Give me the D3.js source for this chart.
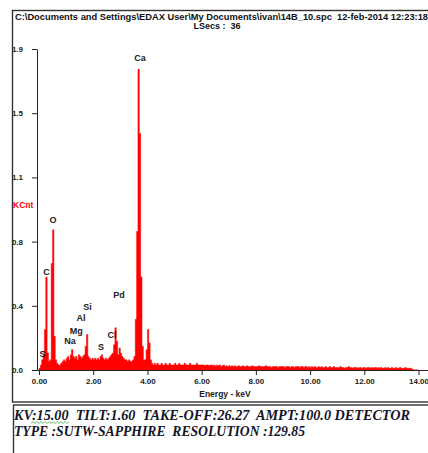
<!DOCTYPE html>
<html>
<head>
<meta charset="utf-8">
<script src="https://cdn.jsdelivr.net/npm/d3@7"></script>
<style>
body { margin: 0; background: #fff; }
svg { display: block; }
svg text { white-space: pre; }
.sans { font-family: "Liberation Sans Narrow", "Arial Narrow", "Liberation Sans", Arial, sans-serif; font-weight: bold; }
.serif { font-family: "Liberation Serif", "DejaVu Serif", serif; font-weight: bold; font-style: italic; }
</style>
</head>
<body>
<div id="chart"></div>
<script>
// EDS spectrum - 14B_10.spc

// Spectrum, kCnt per 0.05 keV channel (rows of 1 keV)
const channelWidth = 0.05;
const counts = [
  0.01,0.03,0.06,0.09,0.24,0.55,0.10,0.05,0.06,0.63,0.83,0.20,0.06,0.04,0.03,0.03,0.04,0.05,0.06,0.05,
  0.07,0.08,0.06,0.09,0.12,0.08,0.07,0.08,0.06,0.09,0.08,0.07,0.08,0.09,0.14,0.21,0.08,0.07,0.06,0.07,
  0.06,0.07,0.06,0.07,0.06,0.08,0.09,0.07,0.06,0.07,0.06,0.07,0.08,0.09,0.10,0.15,0.25,0.17,0.09,0.13,
  0.10,0.08,0.07,0.06,0.06,0.05,0.06,0.05,0.05,0.06,0.08,0.30,0.82,1.78,1.40,0.55,0.14,0.06,0.06,0.12,
  0.24,0.16,0.06,0.04,0.03,0.04,0.03,0.04,0.03,0.03,0.04,0.03,0.03,0.04,0.03,0.03,0.04,0.03,0.03,0.03,
  0.04,0.03,0.03,0.04,0.03,0.03,0.03,0.04,0.03,0.03,0.03,0.04,0.03,0.03,0.03,0.03,0.04,0.03,0.03,0.03,
  0.03,0.03,0.025,0.03,0.03,0.025,0.03,0.03,0.025,0.03,0.02,0.03,0.025,0.03,0.02,0.025,0.03,0.02,0.025,0.02,
  0.025,0.02,0.025,0.02,0.025,0.02,0.02,0.025,0.02,0.02,0.025,0.02,0.02,0.025,0.02,0.02,0.02,0.025,0.02,0.02,
  0.02,0.02,0.025,0.02,0.02,0.02,0.02,0.025,0.02,0.02,0.02,0.015,0.02,0.02,0.02,0.02,0.015,0.02,0.02,0.02,
  0.02,0.015,0.02,0.02,0.02,0.015,0.02,0.02,0.015,0.02,0.02,0.02,0.015,0.02,0.02,0.015,0.02,0.02,0.015,0.02,
  0.015,0.02,0.015,0.02,0.015,0.015,0.02,0.015,0.02,0.015,0.015,0.02,0.015,0.015,0.02,0.015,0.015,0.02,0.015,0.015,
  0.015,0.015,0.02,0.015,0.015,0.01,0.015,0.015,0.02,0.015,0.015,0.01,0.015,0.015,0.015,0.01,0.015,0.015,0.01,0.015,
  0.015,0.01,0.015,0.015,0.01,0.015,0.01,0.015,0.015,0.01,0.015,0.01,0.015,0.01,0.01,0.015,0.01,0.015,0.01,0.01,
  0.015,0.01,0.01,0.015,0.01,0.01,0.015,0.01,0.01,0.01,0.015,0.01,0.01,0.01,0.01,0.005,0,0,0,0
];

// Axis ticks (EDAX splits the y range in five and rounds the labels)
const xTicks = [0, 2, 4, 6, 8, 10, 12, 14];
const yTicks = [0, 0.38, 0.76, 1.14, 1.52, 1.9];

// Element labels: name, energy (keV), label height (kCnt)
const peakNames  = ['Ca', 'O', 'C', 'S', 'Si', 'Al', 'Mg', 'Na', 'S', 'Cl', 'Pd'];
const peakKeV    = [3.73, 0.52, 0.28, 0.13, 1.79, 1.55, 1.37, 1.14, 2.29, 2.69, 2.95];
const peakLabelY = [1.83, 0.87, 0.56, 0.077, 0.358, 0.29, 0.216, 0.151, 0.121, 0.192, 0.429];

const headerLines = [
    'C:\\Documents and Settings\\EDAX User\\My Documents\\ivan\\14B_10.spc  12-feb-2014 12:23:18',
    'LSecs :  36'
];
const infoLines = [
    'KV:15.00  TILT:1.60  TAKE-OFF:26.27  AMPT:100.0 DETECTOR',
    'TYPE :SUTW-SAPPHIRE  RESOLUTION :129.85'
];

const width = 428, height = 453;

const svg = d3.select('#chart').append('svg')
    .attr('width', width)
    .attr('height', height);

// Frames
svg.append('rect')
    .attr('x', 12.5).attr('y', 10.5)
    .attr('width', 440).attr('height', 391.5)
    .attr('fill', 'none').attr('stroke', '#333').attr('stroke-width', 1.4);

svg.append('rect')
    .attr('x', 13.5).attr('y', 405)
    .attr('width', 440).attr('height', 60)
    .attr('fill', 'none').attr('stroke', '#333').attr('stroke-width', 1.4);

// Header
svg.append('text')
    .attr('class', 'sans')
    .attr('x', 15).attr('y', 20)
    .attr('textLength', 413).attr('lengthAdjust', 'spacingAndGlyphs')
    .style('font-size', '9px')
    .attr('fill', '#111')
    .text(headerLines[0]);

svg.append('text')
    .attr('class', 'sans')
    .attr('x', 217).attr('y', 28.5)
    .attr('text-anchor', 'middle')
    .style('font-size', '9px')
    .attr('fill', '#111')
    .text(headerLines[1]);

// Scales
const x = d3.scaleLinear().domain([-0.074, 14.35]).range([37, 428]);
const y = d3.scaleLinear().domain([0, 1.9]).range([370, 49]);

const spectrum = counts.map((c, i) => ({e: i * channelWidth, c: c}));
spectrum.push({e: counts.length * channelWidth, c: 0});

const area = d3.area()
    .x(d => x(d.e))
    .y0(y(0))
    .y1(d => y(d.c))
    .curve(d3.curveStepAfter);

svg.append('path')
    .datum(spectrum)
    .attr('d', area)
    .attr('fill', '#ff0000')
    .attr('stroke', '#ff0000')
    .attr('stroke-width', 0.5);

// Axes
const xAxis = svg.append('g')
    .attr('transform', `translate(0,${y(0)})`)
    .call(d3.axisBottom(x)
        .tickValues(xTicks)
        .tickFormat(d3.format('.2f'))
        .tickSize(5)
        .tickSizeOuter(0)
        .tickPadding(3));

const yAxis = svg.append('g')
    .attr('transform', `translate(${x.range()[0]},0)`)
    .call(d3.axisLeft(y)
        .tickValues(yTicks)
        .tickFormat(d3.format('.1f'))
        .tickSize(5)
        .tickSizeOuter(0)
        .tickPadding(9));

[xAxis, yAxis].forEach(g => {
    g.selectAll('path, line').attr('stroke', '#222').attr('stroke-width', 1);
    g.selectAll('text')
        .attr('class', 'sans')
        .attr('fill', '#222')
        .style('font-size', '8px');
});

// Axis titles
svg.append('text')
    .attr('class', 'sans')
    .attr('x', 225).attr('y', 397)
    .attr('text-anchor', 'middle')
    .style('font-size', '8.5px')
    .attr('fill', '#222')
    .text('Energy - keV');

svg.append('text')
    .attr('class', 'sans')
    .attr('x', 13).attr('y', 208)
    .style('font-size', '8.5px')
    .attr('fill', '#ff0000')
    .text('KCnt');

// Element labels
svg.selectAll('text.peak')
    .data(peakNames)
    .enter()
    .append('text')
    .attr('class', 'peak sans')
    .attr('x', (d, i) => x(peakKeV[i]))
    .attr('y', (d, i) => y(peakLabelY[i]))
    .attr('text-anchor', 'middle')
    .style('font-size', '9px')
    .attr('fill', '#222')
    .text(d => d);

// Acquisition info box
const infoLengths = [396, 291];
svg.selectAll('text.info')
    .data(infoLines)
    .enter()
    .append('text')
    .attr('class', 'info serif')
    .attr('x', 14)
    .attr('y', (d, i) => 420 + i * 15.5)
    .attr('textLength', (d, i) => infoLengths[i])
    .attr('lengthAdjust', 'spacingAndGlyphs')
    .style('font-size', '14.5px')
    .attr('fill', '#141428')
    .text(d => d);

// spell-check squiggle under "15.00"
const squiggle = d3.range(31, 71, 2).map((px, i) => [px, i % 2 ? 421.5 : 423.5]);
svg.append('path')
    .attr('d', d3.line()(squiggle))
    .attr('fill', 'none')
    .attr('stroke', '#3aa43a')
    .attr('stroke-width', 0.8);
</script>
</body>
</html>
